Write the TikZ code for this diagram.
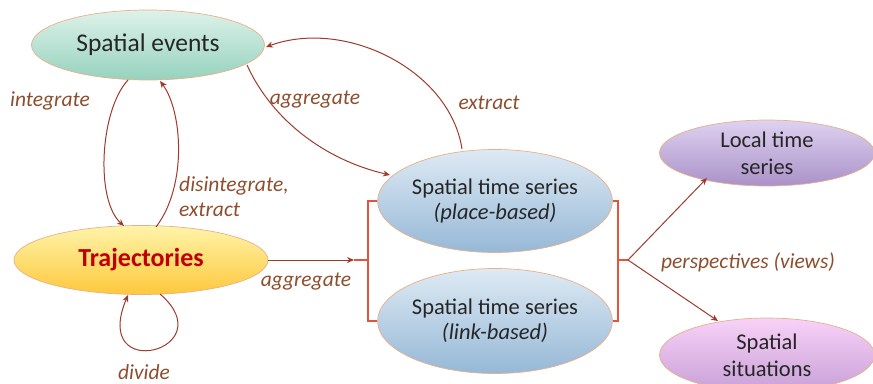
\documentclass[tikz,border=0pt]{standalone}
\usepackage{fontspec}
\setmainfont{Carlito}
\usetikzlibrary{arrows.meta,shapes.geometric}
\definecolor{arr}{HTML}{9E3A2C}
\definecolor{brk}{HTML}{E0553C}
\definecolor{lbl}{HTML}{8E4E2E}
\definecolor{txt}{HTML}{262626}
\definecolor{edge}{HTML}{E8B08A}
\tikzset{
  oval/.style={ellipse, draw=edge, line width=0.7pt, shading=axis, shading angle=0, inner sep=0pt, text=txt, align=center},
  conn/.style={draw=arr, line width=1pt, -{Stealth[length=7pt,width=6pt]}},
  brack/.style={draw=brk, line width=1.1pt},
  lab/.style={text=lbl, font=\fontsize{21.5}{25}\selectfont\itshape, inner sep=0pt, align=left},
}
\begin{document}
\begin{tikzpicture}[x=1pt,y=-1pt]
\useasboundingbox (0,0) rectangle (873,383);
% nodes
\node[oval, minimum width=233pt, minimum height=70pt, top color={rgb,255:red,222;green,242;blue,234}, bottom color={rgb,255:red,150;green,210;blue,190},
  font=\fontsize{25.5}{28}\selectfont] (ev) at (148,45) {Spatial events};
\node[oval, minimum width=254pt, minimum height=69pt, top color={rgb,255:red,255;green,244;blue,170}, bottom color={rgb,255:red,253;green,200;blue,60},
  text={rgb,255:red,192;green,0;blue,0}, font=\fontsize{26}{30}\selectfont\bfseries] (tr) at (141,260) {Trajectories};
\node[oval, minimum width=224pt, minimum height=103pt, top color={rgb,255:red,222;green,234;blue,244}, bottom color={rgb,255:red,150;green,184;blue,214},
  font=\fontsize{22.5}{25}\selectfont] (pb) at (495,201) {Spatial time series\\\textit{(place-based)}};
\node[oval, minimum width=224pt, minimum height=105pt, top color={rgb,255:red,222;green,234;blue,244}, bottom color={rgb,255:red,150;green,184;blue,214},
  font=\fontsize{22.5}{25}\selectfont] (lb) at (495,321) {Spatial time series\\\textit{(link-based)}};
\node[oval, minimum width=215pt, minimum height=66pt, top color={rgb,255:red,222;green,210;blue,240}, bottom color={rgb,255:red,170;green,145;blue,200},
  font=\fontsize{22.5}{27}\selectfont] (lt) at (767,153) {Local time\\series};
\node[oval, minimum width=215pt, minimum height=74pt, top color={rgb,255:red,248;green,210;blue,248}, bottom color={rgb,255:red,200;green,160;blue,215},
  font=\fontsize{22.5}{27}\selectfont] (ss) at (767,355) {Spatial\\situations};
% anchor points on the ovals
\coordinate (evInt) at (128,80);
\coordinate (evDis) at (160,81);
\coordinate (evAgg) at (247,65);
\coordinate (evExt) at (266,47);
\coordinate (trInt) at (124,226);
\coordinate (trDis) at (156,227);
\coordinate (trDivOut) at (160,294);
\coordinate (trDivIn) at (128,295);
\coordinate (pbAgg) at (390,175);
\coordinate (pbExt) at (462,149);
\coordinate (ltIn) at (707,178);
\coordinate (ssIn) at (718,321);
% brackets
\coordinate (lbrk) at (368,260);
\coordinate (lmid) at (354,260);
\coordinate (rbrk) at (618,260);
\coordinate (rmid) at (628,260);
% curved connectors
\draw[conn] (evInt) .. controls (100,110) and (95,200) .. (trInt);
\draw[conn] (trDis) .. controls (188,185) and (182,110) .. (evDis);
\draw[conn] (evAgg) .. controls (272,120) and (325,160) .. (pbAgg);
\draw[conn] (pbExt) .. controls (450,70) and (345,18) .. (evExt);
\draw[conn] (trDivOut) .. controls (225,350) and (90,385) .. (trDivIn);
% aggregate into bracket
\draw[conn] (tr.east) -- (lmid);
\draw[brack] (lmid) -- (lbrk);
\draw[brack] (pb.west) -| (lbrk) |- (lb.west);
\draw[brack] (pb.east) -| (rbrk) |- (lb.east);
\draw[brack] (rbrk) -- (rmid);
\draw[conn] (rmid) -- (ltIn);
\draw[conn] (rmid) -- (ssIn);
% labels
\node[lab] (l1) at (50,101) {integrate};
\node[lab, anchor=north west] (l2) at (179,176) {disintegrate,\\extract};
\node[lab] (l3) at (315,100) {aggregate};
\node[lab] (l4) at (489,103) {extract};
\node[lab] (l5) at (306,282) {aggregate};
\node[lab] (l6) at (144,372) {divide};
\node[lab] (l7) at (748,262) {perspectives (views)};
\end{tikzpicture}
\end{document}
